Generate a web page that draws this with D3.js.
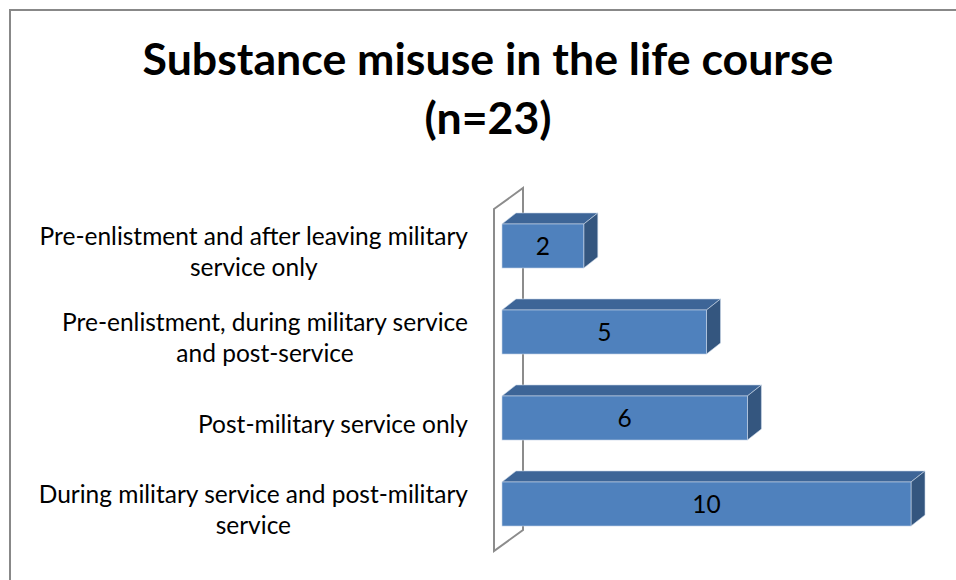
<!DOCTYPE html>
<html>
<head>
<meta charset="utf-8">
<script src="https://cdn.jsdelivr.net/npm/d3@7/dist/d3.min.js"></script>
<style>
  body { margin: 0; background: #fff; }
  svg { display: block; }
</style>
</head>
<body>
<div id="main"></div>
<script>
// data
const categories = [
    'Pre-enlistment and after leaving military service only',
    'Pre-enlistment, during military service and post-service',
    'Post-military service only',
    'During military service and post-military service'
];
// line breaks as in the original
const categoryLines = [
    ['Pre-enlistment and after leaving military', 'service only'],
    ['Pre-enlistment, during military service', 'and post-service'],
    ['Post-military service only'],
    ['During military service and post-military', 'service']
];
const values = [2, 5, 6, 10];
const titleLines = ['Substance misuse in the life course', '(n=23)'];

const W = 956, H = 580;
const font = 'Lato, "Open Sans", sans-serif';

let svg = d3.select('#main').append('svg').attr('width', W).attr('height', H);

// chart frame (runs off the right/bottom edge in the original)
svg.append('rect')
    .attr('x', 10).attr('y', 10)
    .attr('width', 1000).attr('height', 1000)
    .attr('fill', '#fff')
    .attr('stroke', '#888').attr('stroke-width', 2);

// pick a font size so that a text has the given width
function fitSize(txt, weight, target) {
    let t = svg.append('text').attr('font-family', font).attr('font-weight', weight)
        .attr('font-size', 100).text(txt);
    let len = t.node().getComputedTextLength();
    t.remove();
    return 100 * target / len;
}

let titleSize = fitSize(titleLines[0], 700, 691);
let labelSize = fitSize('Post-military service only', 400, 270);

// title
svg.append('g').selectAll('text')
    .data(titleLines)
    .enter()
    .append('text')
    .attr('x', 488)
    .attr('y', (d, i) => 75 + i * 59)
    .attr('text-anchor', 'middle')
    .attr('font-family', font)
    .attr('font-weight', 700)
    .attr('font-size', titleSize)
    .attr('fill', '#000')
    .text(d => d);

// scales
let x = d3.scaleLinear().domain([0, 10]).range([502, 911]);
let y = d3.scaleBand().domain(categories).range([203, 547]).paddingInner(0.488).paddingOuter(0.244);

const depth = [14, -11];      // bar depth offset
const wallDepth = [29, -21];  // back wall offset

// side wall (drawn as an outlined parallelogram)
let wx = x(0) - 8, wy0 = y.range()[0] + 6, wy1 = y.range()[1] + 4;
svg.append('path')
    .attr('d', d3.line()([
        [wx, wy0], [wx + wallDepth[0], wy0 + wallDepth[1]],
        [wx + wallDepth[0], wy1 + wallDepth[1]], [wx, wy1]
    ]) + 'Z')
    .attr('fill', 'none')
    .attr('stroke', '#8c8c8c')
    .attr('stroke-width', 2);

// bars
let bars = svg.append('g').selectAll('g')
    .data(values)
    .enter()
    .append('g');

bars.append('path')   // top face
    .attr('d', (d, i) => {
        let x0 = x(0), x1 = x(d), yt = y(categories[i]);
        return d3.line()([[x0, yt], [x0 + depth[0], yt + depth[1]], [x1 + depth[0], yt + depth[1]], [x1, yt]]) + 'Z';
    })
    .attr('fill', '#3d6597')
    .attr('stroke', '#c9d6e8').attr('stroke-width', 0.6);

bars.append('path')   // side face
    .attr('d', (d, i) => {
        let x1 = x(d), yt = y(categories[i]), yb = yt + y.bandwidth();
        return d3.line()([[x1, yt], [x1 + depth[0], yt + depth[1]], [x1 + depth[0], yb + depth[1]], [x1, yb]]) + 'Z';
    })
    .attr('fill', '#34567f')
    .attr('stroke', '#c9d6e8').attr('stroke-width', 0.6);

bars.append('rect')   // front face
    .attr('x', x(0))
    .attr('y', (d, i) => y(categories[i]))
    .attr('width', d => x(d) - x(0))
    .attr('height', y.bandwidth())
    .attr('fill', '#4f81bd')
    .attr('stroke', '#c9d6e8').attr('stroke-width', 0.6);

bars.append('text')
    .attr('x', d => (x(0) + x(d)) / 2)
    .attr('y', (d, i) => y(categories[i]) + y.bandwidth() / 2)
    .attr('dy', '0.35em')
    .attr('text-anchor', 'middle')
    .attr('font-family', font)
    .attr('font-size', labelSize)
    .attr('fill', '#000')
    .text(d => d);

// category labels: block right-aligned to the axis, lines centred in the block
const lineH = 31;
let labels = svg.append('g').selectAll('text')
    .data(categories)
    .enter()
    .append('text')
    .attr('font-family', font)
    .attr('font-size', labelSize)
    .attr('fill', '#000')
    .attr('text-anchor', 'middle');

labels.each(function (d, i) {
    let t = d3.select(this);
    let lines = categoryLines[i];
    let cy = y(d) + y.bandwidth() / 2 + 6;
    lines.forEach((ln, j) => {
        t.append('tspan')
            .attr('y', cy + (j - (lines.length - 1) / 2) * lineH)
            .attr('dy', '0.35em')
            .text(ln);
    });
    let wmax = 0;
    t.selectAll('tspan').each(function () {
        wmax = Math.max(wmax, this.getComputedTextLength());
    });
    t.selectAll('tspan').attr('x', 468 - wmax / 2);
});
</script>
</body>
</html>
